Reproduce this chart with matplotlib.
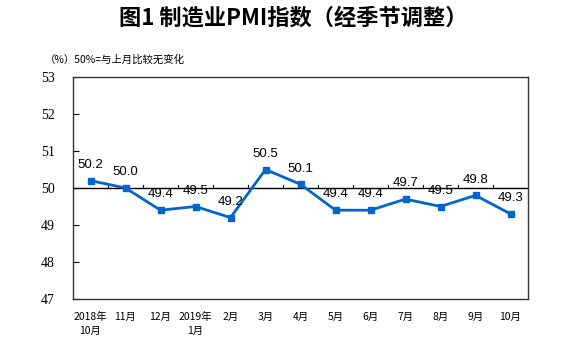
import matplotlib
matplotlib.use("Agg")
import matplotlib.pyplot as plt

plt.rcParams['font.family'] = ['Noto Sans CJK SC', 'DejaVu Sans']

categories = ["2018年\n10月", "11月", "12月", "2019年\n1月", "2月", "3月", "4月",
              "5月", "6月", "7月", "8月", "9月", "10月"]
values = [50.2, 50.0, 49.4, 49.5, 49.2, 50.5, 50.1, 49.4, 49.4, 49.7, 49.5, 49.8, 49.3]
yticks = [47, 48, 49, 50, 51, 52, 53]

fig = plt.figure(figsize=(5.87, 3.5), dpi=100)
ax = fig.add_axes([73/587, 1-299/350, (528-73)/587, (299-77)/350])

x = list(range(len(values)))
ax.plot(x, values, color='#0066CC', lw=2, marker='s', ms=4, zorder=3)
ax.set_xlim(-0.5, len(values) - 0.5)
ax.set_ylim(47, 53)

# 50 line and category ticks on it
ax.axhline(50, color='black', lw=1, zorder=2)
for b in range(len(values) - 1):
    ax.plot([b + 0.5, b + 0.5], [50, 50.09], color='black', lw=0.8, zorder=2)

for xi, v in zip(x, values):
    ax.annotate(f"{v:.1f}", (xi, v), xytext=(0, 7), textcoords='offset points',
                ha='center', va='bottom', fontsize=9.5, family='Liberation Sans')

ax.set_yticks(yticks)
ax.set_yticklabels([str(t) for t in yticks], family='Liberation Serif', fontsize=10)
ax.tick_params(axis='y', direction='in', length=4, pad=13)
ax.set_xticks(x)
ax.set_xticklabels(categories, fontsize=7.5, linespacing=1.5, va='top')
ax.tick_params(axis='x', length=0, pad=9)
for s in ax.spines.values():
    s.set_color('#333333')
    s.set_linewidth(1)

fig.text(0.5, 1-18/350, "图1 制造业PMI指数（经季节调整）", ha='center', va='center',
         fontsize=16, fontweight='bold')
fig.text(45/587, 1-60/350, "（%）50%=与上月比较无变化", ha='left', va='center', fontsize=7.5)

fig.savefig("out.png", dpi=100)
